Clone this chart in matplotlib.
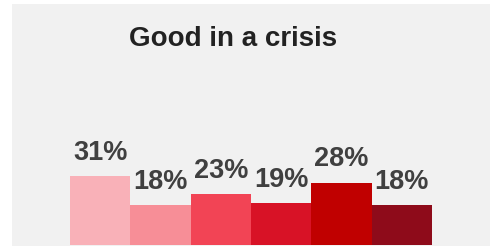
import matplotlib.pyplot as plt

# data
categories = ["A", "B", "C", "D", "E", "F"]
values = [31, 18, 23, 19, 28, 18]
labels = ["31%", "18%", "23%", "19%", "28%", "18%"]
colors = ["#f9b1b8", "#f78e97", "#f24455", "#d81226", "#c00000", "#8e0b1a"]
title = "Good in a crisis"

plt.rcParams["font.family"] = ["Liberation Sans", "DejaVu Sans"]

fig = plt.figure(figsize=(4.9, 2.46), dpi=100)
fig.patch.set_facecolor("white")

# gray panel starts a bit in from the left / top edge
ax = fig.add_axes([12 / 490, 0, 478 / 490, 242 / 246])
ax.set_facecolor("#f1f1f1")

x = list(range(len(values)))
ax.bar(x, values, width=1.0, color=colors, linewidth=0)

for xi, v, lab in zip(x, values, labels):
    ax.text(xi, v + 7.2, lab, ha="center", va="baseline",
            fontsize=19.5, fontweight="bold", color="#404040")

ax.set_xlim(-1.462, 6.462)
ax.set_ylim(-0.45, 108)
ax.set_xticks([])
ax.set_yticks([])
for s in ax.spines.values():
    s.set_visible(False)

fig.text(233 / 490, 1 - 46 / 246, title, ha="center", va="baseline",
         fontsize=20, fontweight="bold", color="#222222")

fig.savefig("out.png", dpi=100)
